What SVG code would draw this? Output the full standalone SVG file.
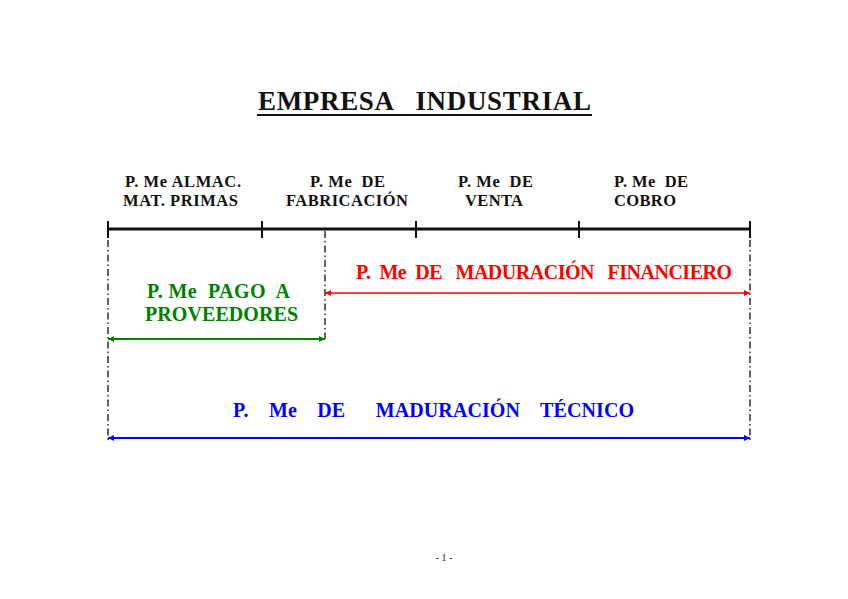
<svg xmlns="http://www.w3.org/2000/svg" width="848" height="599" viewBox="0 0 848 599">
<style>
text{font-family:"Liberation Serif","DejaVu Serif","Times New Roman",serif;font-weight:bold;white-space:pre}
.hd{font-size:16.5px;fill:#111}
.lb{font-size:20px}
.dd{stroke:#222;stroke-width:1.4;stroke-dasharray:7,3,1.5,3;fill:none}
</style>
<defs>
<marker id="ag" viewBox="0 0 10 10" refX="10" refY="5" markerWidth="9" markerHeight="6" orient="auto-start-reverse" markerUnits="userSpaceOnUse"><path d="M0,0L10,5L0,10z" fill="#008000"/></marker>
<marker id="ar" viewBox="0 0 10 10" refX="10" refY="5" markerWidth="9" markerHeight="6" orient="auto-start-reverse" markerUnits="userSpaceOnUse"><path d="M0,0L10,5L0,10z" fill="#ff0000"/></marker>
<marker id="ab" viewBox="0 0 10 10" refX="10" refY="5" markerWidth="9" markerHeight="6" orient="auto-start-reverse" markerUnits="userSpaceOnUse"><path d="M0,0L10,5L0,10z" fill="#0000ff"/></marker>
</defs>
<rect width="848" height="599" fill="#fff"/>
<g id="title">
<text x="258" y="110" font-size="27" fill="#111" textLength="333">EMPRESA   INDUSTRIAL</text>
<line x1="257" y1="115" x2="592" y2="115" stroke="#111" stroke-width="2"/>
</g>
<g id="headers">
<text class="hd" x="125" y="187" textLength="116">P. Me ALMAC.</text>
<text class="hd" x="123" y="206" textLength="115">MAT. PRIMAS</text>
<text class="hd" x="310" y="187" textLength="75">P. Me  DE</text>
<text class="hd" x="286" y="206" textLength="122">FABRICACIÓN</text>
<text class="hd" x="458" y="187" textLength="75">P. Me  DE</text>
<text class="hd" x="465" y="206" textLength="58">VENTA</text>
<text class="hd" x="614" y="187" textLength="74">P. Me  DE</text>
<text class="hd" x="614" y="206" textLength="62">COBRO</text>
</g>
<g id="timeline">
<line x1="108" y1="229" x2="750" y2="229" stroke="#111" stroke-width="3"/>
<line x1="108" y1="221" x2="108" y2="238" stroke="#111" stroke-width="2"/>
<line x1="262" y1="221" x2="262" y2="238" stroke="#111" stroke-width="2"/>
<line x1="416" y1="221" x2="416" y2="238" stroke="#111" stroke-width="2"/>
<line x1="579" y1="221" x2="579" y2="238" stroke="#111" stroke-width="2"/>
<line x1="750" y1="221" x2="750" y2="238" stroke="#111" stroke-width="2"/>
</g>
<g id="guides">
<line class="dd" x1="108" y1="240" x2="108" y2="440"/>
<line class="dd" x1="325" y1="231" x2="325" y2="339"/>
<line class="dd" x1="750" y1="240" x2="750" y2="440"/>
</g>
<g id="connectors">
<line x1="108" y1="339" x2="325" y2="339" stroke="#008000" stroke-width="2" marker-start="url(#ag)" marker-end="url(#ag)"/>
<line x1="325" y1="293" x2="750" y2="293" stroke="#ff0000" stroke-width="1.6" marker-start="url(#ar)" marker-end="url(#ar)"/>
<line x1="108" y1="438" x2="750" y2="438" stroke="#0000ff" stroke-width="2" marker-start="url(#ab)" marker-end="url(#ab)"/>
</g>
<g id="pago">
<text class="lb" x="147" y="298" fill="#008000" textLength="143">P. Me  PAGO  A</text>
<text class="lb" x="145" y="321" fill="#008000" textLength="153">PROVEEDORES</text>
</g>
<g id="financiero">
<text class="lb" x="356" y="279" fill="#ff0000" textLength="376">P.  Me  DE   MADURACIÓN   FINANCIERO</text>
</g>
<g id="tecnico">
<text class="lb" x="233" y="417" fill="#0000ff" textLength="401">P.    Me    DE      MADURACIÓN    TÉCNICO</text>
</g>
<text x="444" y="561" text-anchor="middle" font-size="10" style="font-weight:normal" fill="#222">- 1 -</text>
</svg>
